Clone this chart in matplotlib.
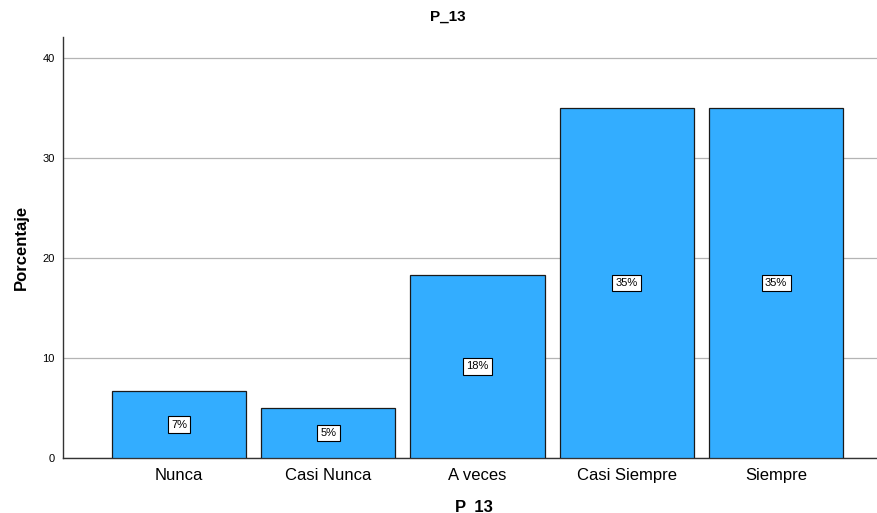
import matplotlib
matplotlib.use("Agg")
import matplotlib.pyplot as plt

categories = ["Nunca", "Casi Nunca", "A veces", "Casi Siempre", "Siempre"]
values = [6.67, 5.0, 18.33, 35.0, 35.0]
labels = ["7%", "5%", "18%", "35%", "35%"]
yticks = [0, 10, 20, 30, 40]

plt.rcParams['font.family'] = ['Liberation Sans', 'DejaVu Sans']

fig = plt.figure(figsize=(8.77, 5.13), dpi=100)
ax = fig.add_axes([63/877, 1 - 458/513, 1 - 63/877 + 0.01, (458 - 37)/513])

x = list(range(len(categories)))
bars = ax.bar(x, values, width=0.9, color="#33adff", edgecolor="#1a1a1a", linewidth=0.9, zorder=3)
for xi, v, lab in zip(x, values, labels):
    ax.text(xi, v / 2, lab, ha="center", va="center", fontsize=8, zorder=4,
            bbox=dict(boxstyle="square,pad=0.3", facecolor="white", edgecolor="black", linewidth=0.8))

ax.set_xlim(-0.777, 4.735)
ax.set_ylim(0, 42.1)
ax.set_yticks(yticks)
ax.set_yticklabels([str(t) for t in yticks], fontsize=8)
ax.set_xticks(x)
ax.set_xticklabels(categories, fontsize=12)
ax.tick_params(axis="both", length=0, pad=6)
ax.tick_params(axis="x", pad=7)
ax.yaxis.grid(True, color="#b4b4b4", linewidth=0.9, zorder=0)
for s in ["top", "right"]:
    ax.spines[s].set_visible(False)
for s in ["left", "bottom"]:
    ax.spines[s].set_color("#333333")
    ax.spines[s].set_linewidth(1.0)

ax.set_ylabel("Porcentaje", fontsize=12, fontweight="bold", labelpad=10)
ax.set_xlabel("P_13", fontsize=12, fontweight="bold", labelpad=12)
fig.text(448/877, 1 - 17/513, "P_13", ha="center", va="center", fontsize=11, fontweight="bold")

fig.savefig("out.png", dpi=100)
